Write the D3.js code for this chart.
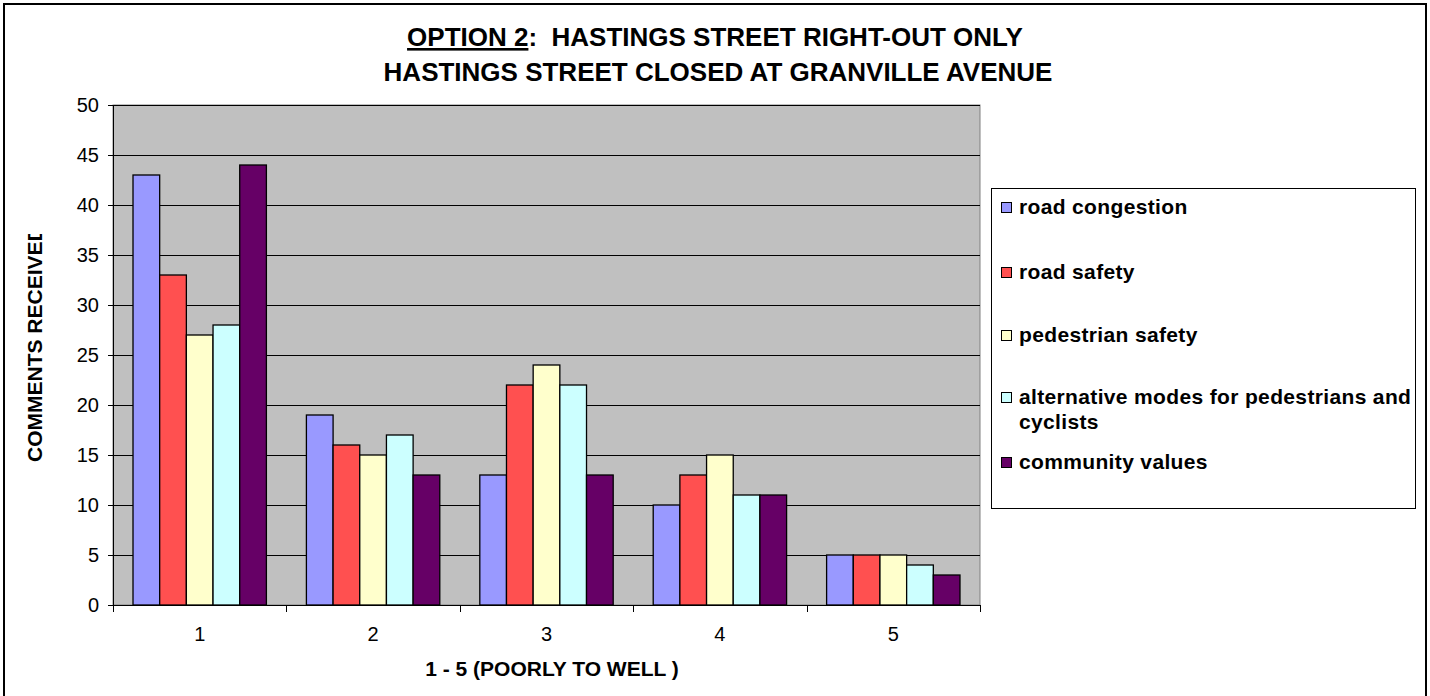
<!DOCTYPE html>
<html>
<head>
<meta charset="utf-8">
<script src="https://cdn.jsdelivr.net/npm/d3@7"></script>
<style>
  body { margin: 0; background: #fff; }
  text { font-family: "Liberation Sans", Arial, sans-serif; }
</style>
</head>
<body>
<div id="chart"></div>
<script>
// data
var categories = ["1", "2", "3", "4", "5"];
var seriesNames = ["road congestion", "road safety", "pedestrian safety",
                   "alternative modes for pedestrians and cyclists", "community values"];
var roadCongestion = [43, 19, 13, 10, 5];
var roadSafety = [33, 16, 22, 13, 5];
var pedestrianSafety = [27, 15, 24, 15, 5];
var alternativeModes = [28, 17, 22, 11, 4];
var communityValues = [44, 13, 13, 11, 3];
var yTicks = [0, 5, 10, 15, 20, 25, 30, 35, 40, 45, 50];

var colors = ["#9999FF", "#FF5050", "#FFFFCC", "#CCFFFF", "#660066"];
var allSeries = [roadCongestion, roadSafety, pedestrianSafety, alternativeModes, communityValues];

var W = 1430, H = 696;
var margin = {top: 105, left: 113},
    width = 867,
    height = 500;

var svg = d3.select("#chart")
  .append("svg")
    .attr("width", W)
    .attr("height", H);

// outer frame (bottom edge runs off the picture)
svg.append("rect")
  .attr("x", 4).attr("y", 4)
  .attr("width", 1422).attr("height", H + 10)
  .attr("fill", "#fff")
  .attr("stroke", "#000")
  .attr("stroke-width", 2);

var g = svg.append("g")
  .attr("transform", "translate(" + margin.left + "," + margin.top + ")");

var x = d3.scaleBand()
  .domain(categories)
  .range([0, width]);

// 150% gap width like the office chart
var x1 = d3.scaleBand()
  .domain(d3.range(seriesNames.length))
  .range([0, x.bandwidth()])
  .paddingInner(0)
  .paddingOuter(0.75);

var y = d3.scaleLinear()
  .domain([0, 50])
  .range([height, 0]);

g.append("rect")
  .attr("width", width)
  .attr("height", height)
  .attr("fill", "#C0C0C0")
  .attr("stroke", "#808080");

// gridlines
g.append("g")
  .selectAll("line")
  .data(yTicks.filter(function(d) { return d > 0; }))
  .enter()
  .append("line")
    .attr("x1", 0)
    .attr("x2", width)
    .attr("y1", function(d) { return Math.round(y(d)) + 0.5; })
    .attr("y2", function(d) { return Math.round(y(d)) + 0.5; })
    .attr("stroke", "#000")
    .attr("stroke-width", 1);

// bars
var rows = categories.map(function(c, i) {
  return {cat: c, vals: allSeries.map(function(s) { return s[i]; })};
});

g.selectAll(".grp")
  .data(rows)
  .enter()
  .append("g")
    .attr("transform", function(d) { return "translate(" + x(d.cat) + ",0)"; })
  .selectAll("rect")
  .data(function(d) { return d.vals; })
  .enter()
  .append("rect")
    .attr("x", function(d, i) { return x1(i); })
    .attr("y", function(d) { return y(d); })
    .attr("width", x1.bandwidth())
    .attr("height", function(d) { return height - y(d); })
    .attr("fill", function(d, i) { return colors[i]; })
    .attr("stroke", "#000")
    .attr("stroke-width", 1.3);

// y axis
var yAxis = g.append("g")
  .call(d3.axisLeft(y).tickValues(yTicks).tickSize(5).tickPadding(9));
yAxis.select(".domain").attr("stroke", "#000").attr("d", "M0.5,0V" + height);
yAxis.selectAll("text")
  .style("font-size", "20px")
  .style("font-family", "Liberation Sans, Arial, sans-serif")
  .attr("fill", "#000");

// x axis with ticks between categories
var xAxis = g.append("g")
  .attr("transform", "translate(0," + height + ")")
  .call(d3.axisBottom(x).tickSize(0).tickPadding(22));
xAxis.select(".domain").attr("stroke", "#000").attr("d", "M0,0.5H" + width);
xAxis.selectAll("text")
  .style("font-size", "20px")
  .style("font-family", "Liberation Sans, Arial, sans-serif")
  .attr("fill", "#000");
xAxis.selectAll(".sep")
  .data(d3.range(categories.length + 1))
  .enter()
  .append("line")
    .attr("x1", function(d) { return Math.round(d * x.step()) + 0.5; })
    .attr("x2", function(d) { return Math.round(d * x.step()) + 0.5; })
    .attr("y1", 0)
    .attr("y2", 7)
    .attr("stroke", "#000");

// title
var title = svg.append("text")
  .attr("x", 715)
  .attr("y", 46)
  .attr("text-anchor", "middle")
  .style("font-size", "26px")
  .style("font-weight", "bold");
title.append("tspan").text("OPTION 2").attr("text-decoration", "underline");
title.append("tspan").text(":\u00a0 HASTINGS STREET RIGHT-OUT ONLY");
svg.append("text")
  .attr("x", 718)
  .attr("y", 81)
  .attr("text-anchor", "middle")
  .style("font-size", "26px")
  .style("font-weight", "bold")
  .text("HASTINGS STREET CLOSED AT GRANVILLE AVENUE");

// axis titles
svg.append("text")
  .attr("x", 552)
  .attr("y", 676)
  .attr("text-anchor", "middle")
  .style("font-size", "21px")
  .style("font-weight", "bold")
  .text("1 - 5 (POORLY TO WELL )");

// the y title is cut off at the top in the original
svg.append("clipPath")
  .attr("id", "yclip")
  .append("rect")
    .attr("x", 0).attr("y", 234).attr("width", 80).attr("height", 300);

svg.append("g")
  .attr("clip-path", "url(#yclip)")
  .append("text")
    .attr("transform", "translate(42,462) rotate(-90)")
    .attr("text-anchor", "start")
    .style("font-size", "21px")
    .style("font-weight", "bold")
    .text("COMMENTS RECEIVED");

// legend
var legend = svg.append("g");
legend.append("rect")
  .attr("x", 991.5).attr("y", 188.5)
  .attr("width", 424).attr("height", 320)
  .attr("fill", "#fff")
  .attr("stroke", "#000");

var legendY = [214, 279, 342, 404, 469];
var item = legend.selectAll(".item")
  .data(seriesNames)
  .enter()
  .append("g")
    .attr("transform", function(d, i) { return "translate(1001," + legendY[i] + ")"; });
item.append("rect")
  .attr("x", 0.5).attr("y", -11.5)
  .attr("width", 10).attr("height", 10)
  .attr("fill", function(d, i) { return colors[i]; })
  .attr("stroke", "#000");
item.append("text")
  .attr("x", 18)
  .style("font-size", "21px")
  .style("font-weight", "bold")
  .style("letter-spacing", "0.35px")
  .each(function(d) {
    var t = d3.select(this);
    if (d.indexOf("cyclists") > 0) {
      t.append("tspan").attr("x", 18).text("alternative modes for pedestrians and");
      t.append("tspan").attr("x", 18).attr("dy", 25).text("cyclists");
    } else {
      t.text(d);
    }
  });
</script>
</body>
</html>
